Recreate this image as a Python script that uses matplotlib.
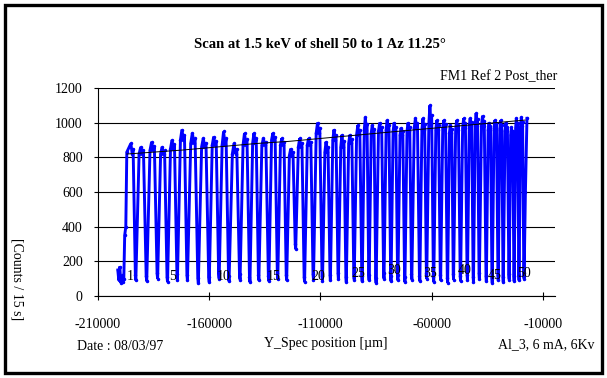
import matplotlib
matplotlib.use("Agg")
import matplotlib.pyplot as plt
from matplotlib.patches import Rectangle

plt.rcParams['font.family'] = ['Liberation Serif', 'DejaVu Serif']

# start of the scan, before shell 1
start_x = [-201100, -200650, -200200, -199750, -199300, -198850, -198400, -198000, -197500, -197050]
start_y = [150, 90, 170, 75, 120, 80, 100, 350, 400, 830]

# dip position and level of each shell (1..50)
dip_x = [-193000, -188100, -183200, -178750, -174300, -169800, -164900, -160000, -155550, -151100,
         -146150, -141700, -137700, -133200, -129200, -125200, -121150, -117150, -113150, -109100,
         -105550, -101950, -98400, -94850, -91250, -88150, -85000, -81450, -78300, -75200,
         -72050, -68950, -65350, -62250, -59100, -56000, -52850, -50200, -47050, -43950,
         -41250, -38600, -35450, -32800, -30100, -27850, -25200, -22950, -20750, -18500]
dip_y = [90, 85, 100, 80, 95, 90, 75, 80, 100, 85,
         95, 80, 90, 85, 100, 90, 270, 80, 95, 85,
         90, 100, 80, 95, 85, 90, 75, 100, 85, 90,
         80, 95, 85, 100, 80, 90, 75, 95, 85, 90,
         80, 100, 85, 75, 90, 80, 95, 85, 90, 100]
# plateau top and shoulder before each dip
peak_y = [880, 860, 890, 860, 900, 960, 940, 910, 920, 950,
          880, 940, 940, 910, 940, 910, 850, 910, 910, 1000,
          890, 960, 930, 930, 985, 1030, 985, 1000, 1015, 1000,
          970, 1000, 1025, 1025, 1100, 1015, 1015, 985, 1015, 1025,
          1025, 1055, 1040, 1000, 1015, 1015, 1000, 975, 1025, 1030]
shoulder_y = [820, 820, 840, 820, 850, 900, 880, 860, 870, 870,
              820, 870, 880, 870, 900, 870, 810, 860, 870, 940,
              830, 900, 860, 880, 930, 960, 940, 950, 960, 950,
              930, 950, 970, 960, 990, 960, 970, 940, 960, 970,
              980, 990, 980, 960, 970, 960, 950, 930, 970, 980]
end_x = [-17900, -17200]
end_y = [600, 1025]

# polynomial trend line
trend_x = [-197050, -172050, -138600, -124300, -75200, -18050]
trend_y = [819, 842, 880, 892, 950, 1015]

# shell numbers written on the chart
label_text = ['1', '5', '10', '15', '20', '25', '30', '35', '40', '45', '50']
label_x = [-195300, -176500, -153300, -131000, -110900, -93050, -77000, -60900, -45300, -31500, -18500]
label_y = [110, 115, 110, 110, 115, 130, 150, 130, 150, 120, 130]

x_ticks = [-210000, -160000, -110000, -60000, -10000]
y_ticks = [0, 200, 400, 600, 800, 1000, 1200]


def build_trace():
    xs = list(start_x)
    ys = list(start_y)
    prev = start_x[-1]
    for i in range(len(dip_x)):
        w = dip_x[i] - prev
        if i > 0:
            xs.append(prev + 0.3 * w)
            ys.append(shoulder_y[i])
        xs += [prev + 0.45 * w, prev + 0.6 * w, prev + 0.7 * w, dip_x[i] - 0.05 * w, dip_x[i]]
        ys += [peak_y[i], shoulder_y[i], (peak_y[i] + shoulder_y[i]) / 2, dip_y[i] + 30, dip_y[i]]
        prev = dip_x[i]
    xs += end_x
    ys += end_y
    return xs, ys


fig = plt.figure(figsize=(6.07, 3.78), dpi=100)
ax = fig.add_axes([98 / 607, 1 - 296 / 378, 457 / 607, 208 / 378])

trace_x, trace_y = build_trace()
ax.plot(trace_x, trace_y, color="#0000ff", lw=2.1, solid_joinstyle="miter", zorder=3)
ax.plot(trace_x, trace_y, 'o', color="#0000ff", ms=1.5, zorder=3)
ax.plot(trend_x, trend_y, color="black", lw=0.7, zorder=4)

for t, x, y in zip(label_text, label_x, label_y):
    ax.text(x, y, t, fontsize=10, ha="center", va="center", zorder=5)

ax.set_xlim(-210000, -4600)
ax.set_ylim(0, 1200)
ax.set_xticks(x_ticks)
ax.set_xticklabels([str(v) for v in x_ticks])
ax.set_yticks(y_ticks)
ax.yaxis.grid(True, color="black", lw=0.8)
ax.set_axisbelow(True)
for s in ["top", "right"]:
    ax.spines[s].set_visible(False)
ax.spines["left"].set_linewidth(0.8)
ax.spines["bottom"].set_linewidth(0.8)
ax.tick_params(axis="x", direction="inout", length=6, width=0.8, labelsize=10, pad=13)
ax.tick_params(axis="y", direction="out", length=3, width=0.8, labelsize=10, pad=8)

fig.text(320 / 607, 1 - 45 / 378, "Scan at 1.5 keV of shell 50 to 1 Az 11.25°",
         fontsize=10.5, fontweight="bold", ha="center", va="center")
fig.text(557 / 607, 1 - 77 / 378, "FM1 Ref 2 Post_ther", fontsize=10, ha="right", va="center")
fig.text(17 / 607, 1 - 279 / 378, "[Counts / 15 s]", fontsize=10, rotation=270,
         ha="center", va="center")
fig.text(77 / 607, 1 - 346 / 378, "Date : 08/03/97", fontsize=10, ha="left", va="center")
fig.text(326 / 607, 1 - 343 / 378, "Y_Spec position [µm]", fontsize=10, ha="center", va="center")
fig.text(595 / 607, 1 - 345 / 378, "Al_3, 6 mA, 6Kv", fontsize=10, ha="right", va="center")

fig.patches.append(Rectangle((5 / 607, 5 / 378), 597 / 607, 368 / 378, transform=fig.transFigure,
                             fill=False, edgecolor="black", lw=2.4))

fig.savefig("out.png", dpi=100)
